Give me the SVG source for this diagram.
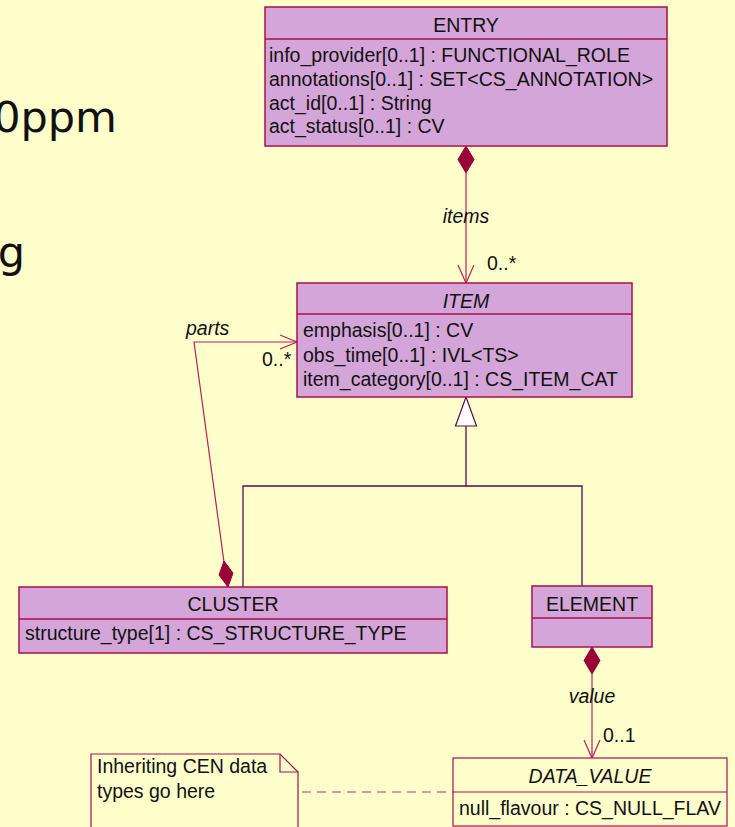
<svg xmlns="http://www.w3.org/2000/svg" width="735" height="827" viewBox="0 0 735 827">
<style>
.box{fill:#D4A5D8;stroke:#A8104C;stroke-width:1.5}
.dv{fill:#FFFFCC;stroke:#A8104C;stroke-width:1.2}
.t{font-family:"Liberation Sans",Arial,sans-serif;font-size:19.5px;fill:#111}
.c{text-anchor:middle}
.i{font-style:italic}
.assoc{fill:none;stroke:#B8205A;stroke-width:1.2}
.gen{fill:none;stroke:#5A0A50;stroke-width:1.3}
.dia{fill:#99003A;stroke:#99003A;stroke-width:1}
.big{font-family:"DejaVu Sans",Verdana,sans-serif;font-size:43px;fill:#111}
</style>
<rect width="735" height="827" fill="#FFFFCC"/>
<text class="big" x="117" y="132" text-anchor="end">0ppm</text>
<text class="big" x="25" y="267" text-anchor="end">g</text>

<g id="connectors">
  <!-- items -->
  <line class="assoc" x1="466" y1="173" x2="466" y2="283"/>
  <polygon class="dia" points="466,146 474,159.5 466,173 458,159.5"/>
  <polyline class="assoc" points="458,265 466,283 474,265"/>
  <text class="t i c" x="466" y="223">items</text>
  <text class="t" x="487" y="270">0..*</text>
  <!-- parts -->
  <polyline class="assoc" points="297,342 194,342 224,562"/>
  <polygon class="dia" points="224,561 233,573 228,587 219,575"/>
  <polyline class="assoc" points="280,335 297,342 280,349"/>
  <text class="t i" x="186" y="335">parts</text>
  <text class="t" x="262" y="366">0..*</text>
  <!-- generalization -->
  <polyline class="gen" points="466,426 466,486 243,486 243,587"/>
  <polyline class="gen" points="466,486 582,486 582,586"/>
  <polygon points="466,397 476.5,426 455.5,426" fill="#FFFFFF" stroke="#5A0A50" stroke-width="1.2"/>
  <!-- value -->
  <line class="assoc" x1="592" y1="674" x2="592" y2="758"/>
  <polygon class="dia" points="592,647 600,660.5 592,674 584,660.5"/>
  <polyline class="assoc" points="584,740 592,758 600,740"/>
  <text class="t i c" x="592" y="703">value</text>
  <text class="t" x="603" y="742">0..1</text>
  <!-- note link -->
  <line x1="302" y1="792" x2="453" y2="792" stroke="#C0306A" stroke-width="1.2" stroke-dasharray="9,6"/>
</g>

<g id="entry">
  <rect class="box" x="265" y="7" width="402" height="139"/>
  <line class="box" x1="265" y1="39" x2="667" y2="39"/>
  <text class="t c" x="466" y="32">ENTRY</text>
  <text class="t" x="269" y="62">info_provider[0..1] : FUNCTIONAL_ROLE</text>
  <text class="t" x="269" y="86">annotations[0..1] : SET&lt;CS_ANNOTATION&gt;</text>
  <text class="t" x="269" y="110">act_id[0..1] : String</text>
  <text class="t" x="269" y="133">act_status[0..1] : CV</text>
</g>

<g id="item">
  <rect class="box" x="297" y="283" width="335" height="114"/>
  <line class="box" x1="297" y1="314" x2="632" y2="314"/>
  <text class="t c i" x="466" y="308">ITEM</text>
  <text class="t" x="303" y="337">emphasis[0..1] : CV</text>
  <text class="t" x="303" y="362">obs_time[0..1] : IVL&lt;TS&gt;</text>
  <text class="t" x="303" y="386">item_category[0..1] : CS_ITEM_CAT</text>
</g>

<g id="cluster">
  <rect class="box" x="19" y="587" width="428" height="66"/>
  <line class="box" x1="19" y1="619" x2="447" y2="619"/>
  <text class="t c" x="233" y="611">CLUSTER</text>
  <text class="t" x="25" y="640">structure_type[1] : CS_STRUCTURE_TYPE</text>
</g>

<g id="element">
  <rect class="box" x="532" y="586" width="120" height="61"/>
  <line class="box" x1="532" y1="618" x2="652" y2="618"/>
  <text class="t c" x="592" y="611">ELEMENT</text>
</g>

<g id="data_value">
  <rect class="dv" x="453" y="758" width="274" height="68"/>
  <line class="dv" x1="453" y1="792" x2="727" y2="792"/>
  <text class="t c i" x="590" y="783">DATA_VALUE</text>
  <text class="t" x="459" y="815">null_flavour : CS_NULL_FLAV</text>
</g>

<g id="note">
  <path d="M91,830 L91,754 L280,754 L298,772 L298,830" fill="#FFFFCC" stroke="#A8104C" stroke-width="1.2"/>
  <path d="M280,754 L280,772 L298,772" fill="none" stroke="#A8104C" stroke-width="1.2"/>
  <text class="t" x="97" y="773">Inheriting CEN data</text>
  <text class="t" x="97" y="798">types go here</text>
</g>
</svg>
